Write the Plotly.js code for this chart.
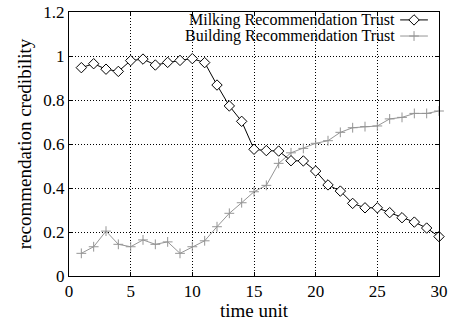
<!DOCTYPE html>
<html>
<head>
<meta charset="utf-8">
<script src="https://cdn.plot.ly/plotly-3.0.1.min.js"></script>
<style>html,body{margin:0;padding:0;background:#fff;}#chart{width:450px;height:321px;}</style>
</head>
<body>
<div id="chart"></div>
<script>
var timeUnits = [1,2,3,4,5,6,7,8,9,10,11,12,13,14,15,16,17,18,19,20,21,22,23,24,25,26,27,28,29,30];
var milkingTrust = [0.947,0.965,0.94,0.93,0.979,0.986,0.959,0.971,0.98,0.988,0.97,0.868,0.773,0.703,0.576,0.57,0.568,0.524,0.523,0.477,0.414,0.386,0.33,0.31,0.31,0.288,0.265,0.245,0.218,0.179];
var buildingTrust = [0.103,0.133,0.204,0.144,0.133,0.164,0.144,0.155,0.103,0.133,0.16,0.224,0.285,0.333,0.383,0.412,0.512,0.56,0.58,0.603,0.615,0.653,0.674,0.679,0.682,0.714,0.721,0.739,0.739,0.75];
var seriesNames = ["Milking Recommendation Trust", "Building Recommendation Trust"];
var xTitle = "time unit";
var yTitle = "recommendation credibility";

var FONT = "Liberation Serif, Times New Roman, serif";
var grayColor = "#959595";
var diamondMarker = {symbol: "diamond", size: 8, color: "#fff", line: {color: "#000", width: 1}};
var crossMarker = {symbol: "cross-thin-open", size: 7, color: grayColor, line: {color: grayColor, width: 1}};

var traces = [
  {x: timeUnits, y: buildingTrust, mode: "lines+markers", name: seriesNames[1],
   line: {color: grayColor, width: 1}, marker: crossMarker, showlegend: false, cliponaxis: false},
  {x: timeUnits, y: milkingTrust, mode: "lines+markers", name: seriesNames[0],
   line: {color: "#000", width: 1}, marker: diamondMarker, showlegend: false, cliponaxis: false},
  // legend samples on an overlay axis spanning the plot area (0..1)
  {x: [0.895, 0.97], y: [0.97, 0.97], xaxis: "x2", yaxis: "y2", mode: "lines",
   line: {color: "#000", width: 1}, showlegend: false, hoverinfo: "skip"},
  {x: [0.9325], y: [0.97], xaxis: "x2", yaxis: "y2", mode: "markers",
   marker: diamondMarker, showlegend: false, hoverinfo: "skip"},
  {x: [0.895, 0.97], y: [0.909, 0.909], xaxis: "x2", yaxis: "y2", mode: "lines",
   line: {color: grayColor, width: 1}, showlegend: false, hoverinfo: "skip"},
  {x: [0.9325], y: [0.909], xaxis: "x2", yaxis: "y2", mode: "markers",
   marker: crossMarker, showlegend: false, hoverinfo: "skip"}
];

var axisCommon = {
  showgrid: true, gridcolor: "#000", griddash: "1px,2px", gridwidth: 1,
  zeroline: false, showline: true, linecolor: "#000", linewidth: 1, mirror: "ticks",
  ticks: "inside", ticklen: 4, tickcolor: "#000",
  tickfont: {family: FONT, size: 17, color: "#000"}
};

var layout = {
  width: 450, height: 321,
  margin: {l: 69, r: 11, t: 12, b: 45, pad: 0},
  paper_bgcolor: "#fff", plot_bgcolor: "#fff",
  font: {family: FONT, size: 17, color: "#000"},
  showlegend: false,
  xaxis: Object.assign({}, axisCommon, {
    range: [0, 30], dtick: 5, tick0: 0,
    title: {text: xTitle, font: {family: FONT, size: 19, color: "#000"}, standoff: 2}
  }),
  yaxis: Object.assign({}, axisCommon, {
    range: [0, 1.2], dtick: 0.2, tick0: 0,
    title: {text: yTitle, font: {family: FONT, size: 19, color: "#000"}, standoff: 6}
  }),
  xaxis2: {overlaying: "x", range: [0, 1], visible: false, fixedrange: true},
  yaxis2: {overlaying: "y", range: [0, 1], visible: false, fixedrange: true},
  annotations: [
    {xref: "paper", yref: "paper", x: 0.886, y: 0.97, xanchor: "right", yanchor: "middle",
     text: seriesNames[0], showarrow: false, font: {family: FONT, size: 16, color: "#000"}},
    {xref: "paper", yref: "paper", x: 0.886, y: 0.909, xanchor: "right", yanchor: "middle",
     text: seriesNames[1], showarrow: false, font: {family: FONT, size: 16, color: "#000"}}
  ]
};

Plotly.newPlot("chart", traces, layout, {staticPlot: true, displayModeBar: false});
</script>
</body>
</html>
